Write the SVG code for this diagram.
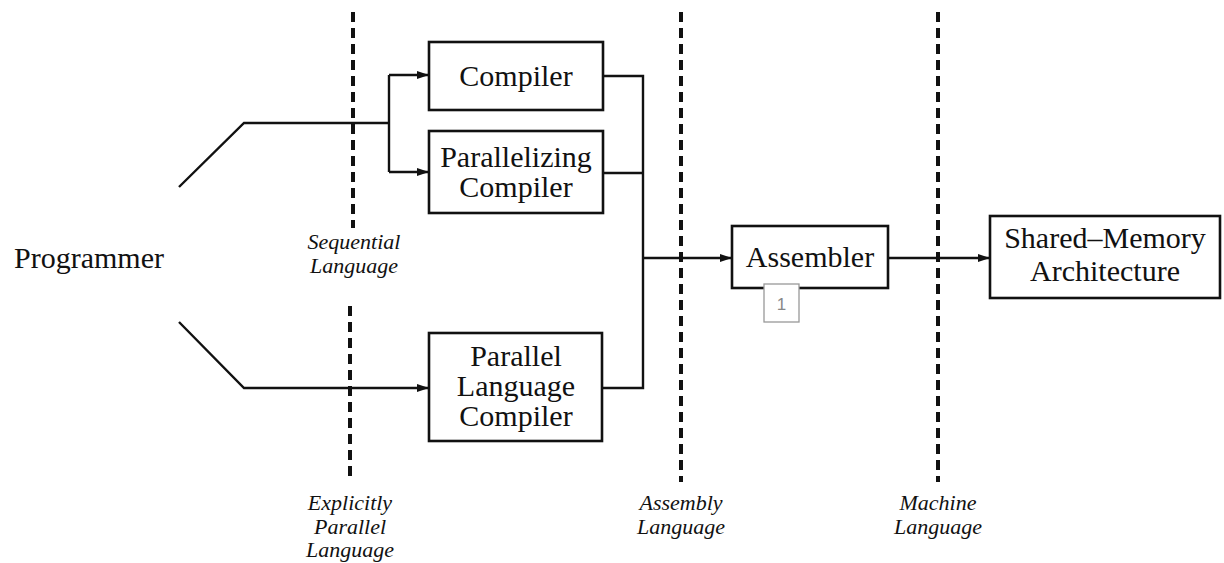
<svg xmlns="http://www.w3.org/2000/svg" width="1224" height="563" viewBox="0 0 1224 563">
  <style>
    .box { fill: #fff; stroke: #111; stroke-width: 2.6; }
    .lbl { font-family: "Liberation Serif", "Times New Roman", serif; font-size: 30px; fill: #111; text-anchor: middle; }
    .lang { font-family: "Liberation Serif", "Times New Roman", serif; font-size: 22px; font-style: italic; fill: #111; text-anchor: middle; }
    .wire { fill: none; stroke: #111; stroke-width: 2.4; }
    .div { stroke: #111; stroke-width: 4; stroke-dasharray: 10 6; fill: none; }
    .tag { fill: #fff; stroke: #999; stroke-width: 1.3; }
    .tagtxt { font-family: "Liberation Sans", Arial, sans-serif; font-size: 17px; fill: #888; text-anchor: middle; }
  </style>
  <defs>
    <marker id="arrow" viewBox="0 0 12 8" refX="12" refY="4" markerWidth="12" markerHeight="8" markerUnits="userSpaceOnUse" orient="auto">
      <path d="M0,0 L12,4 L0,8 z" fill="#111"/>
    </marker>
  </defs>

  <rect width="1224" height="563" fill="#fff"/>

  <!-- language-level boundaries -->
  <g id="boundaries">
    <line class="div" x1="353" y1="12" x2="353" y2="228"/>
    <line class="div" x1="350" y1="306" x2="350" y2="482"/>
    <line class="div" x1="681" y1="12" x2="681" y2="482"/>
    <line class="div" x1="938" y1="12" x2="938" y2="482"/>
    <text class="lang" x="354" y="249">Sequential</text>
    <text class="lang" x="354" y="273">Language</text>
    <text class="lang" x="350" y="510">Explicitly</text>
    <text class="lang" x="350" y="534">Parallel</text>
    <text class="lang" x="350" y="557">Language</text>
    <text class="lang" x="681" y="510">Assembly</text>
    <text class="lang" x="681" y="534">Language</text>
    <text class="lang" x="938" y="510">Machine</text>
    <text class="lang" x="938" y="534">Language</text>
  </g>

  <!-- connectors -->
  <g id="connectors">
    <polyline class="wire" points="179,187 244,123 389,123"/>
    <polyline class="wire" points="389,75 389,172"/>
    <line class="wire" x1="389" y1="75" x2="429" y2="75" marker-end="url(#arrow)"/>
    <line class="wire" x1="389" y1="172" x2="429" y2="172" marker-end="url(#arrow)"/>
    <polyline class="wire" points="179,322 244,388 429,388" marker-end="url(#arrow)"/>
    <polyline class="wire" points="603,76 643,76 643,388 603,388"/>
    <line class="wire" x1="603" y1="173" x2="643" y2="173"/>
    <line class="wire" x1="643" y1="258" x2="732" y2="258" marker-end="url(#arrow)"/>
    <line class="wire" x1="888" y1="258" x2="990" y2="258" marker-end="url(#arrow)"/>
  </g>

  <g id="programmer">
    <text class="lbl" x="89" y="268">Programmer</text>
  </g>

  <g id="compiler">
    <rect class="box" x="429" y="42" width="174" height="68"/>
    <text class="lbl" x="516" y="86">Compiler</text>
  </g>

  <g id="parallelizing-compiler">
    <rect class="box" x="429" y="131" width="174" height="82"/>
    <text class="lbl" x="516" y="167">Parallelizing</text>
    <text class="lbl" x="516" y="197">Compiler</text>
  </g>

  <g id="parallel-language-compiler">
    <rect class="box" x="429" y="333" width="173" height="108"/>
    <text class="lbl" x="516" y="366">Parallel</text>
    <text class="lbl" x="516" y="396">Language</text>
    <text class="lbl" x="516" y="426">Compiler</text>
  </g>

  <g id="assembler">
    <rect class="box" x="732" y="226" width="156" height="62"/>
    <text class="lbl" x="810" y="267">Assembler</text>
    <rect class="tag" x="764" y="284" width="35" height="38"/>
    <text class="tagtxt" x="781.5" y="310">1</text>
  </g>

  <g id="shared-memory-architecture">
    <rect class="box" x="990" y="216" width="230" height="82"/>
    <text class="lbl" x="1105" y="248">Shared–Memory</text>
    <text class="lbl" x="1105" y="281">Architecture</text>
  </g>
</svg>
